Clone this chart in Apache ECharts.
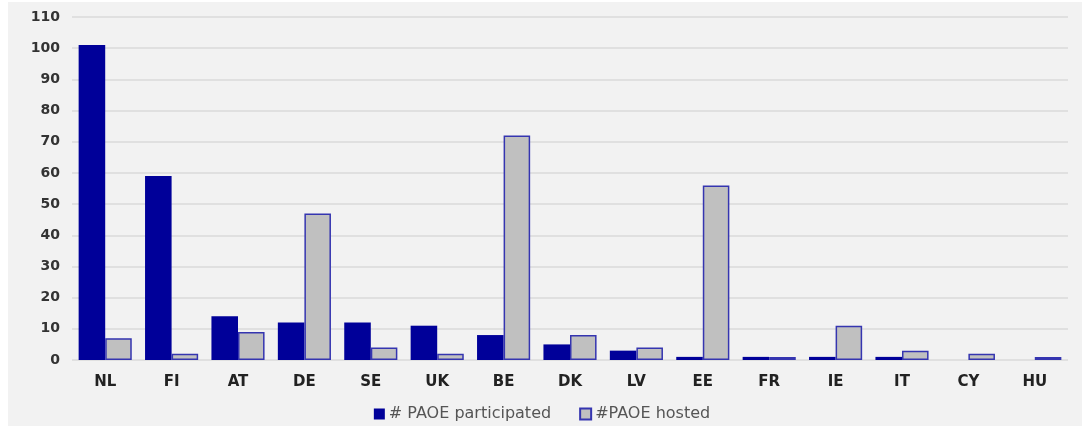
<!DOCTYPE html>
<html><head><meta charset="utf-8">
<script src="https://cdn.jsdelivr.net/npm/echarts@6/dist/echarts.min.js"></script>
<style>html,body{margin:0;padding:0;background:#fff;}#c{width:1084px;height:427px;}</style>
</head><body><div id="c"></div>
<script>
const categories = ['NL','FI','AT','DE','SE','UK','BE','DK','LV','EE','FR','IE','IT','CY','HU'];
const participated = [101,59,14,12,12,11,8,5,3,1,1,1,1,0,0];
const hosted = [7,2,9,47,4,2,72,8,4,56,1,11,3,2,1];
const yTicks = {min:0, max:110, interval:10};

const chart = echarts.init(document.getElementById('c'));
chart.setOption({
  animation:false,
  graphic:[{type:'rect', shape:{x:8,y:2,width:1074,height:424}, style:{fill:'#f2f2f2'}, z:-10, silent:true}],
  grid:{left:72, right:16, top:17, bottom:67},
  xAxis:{type:'category', data:categories,
    axisLine:{show:false}, axisTick:{show:false},
    axisLabel:{fontFamily:'DejaVu Sans', fontWeight:'bold', fontSize:15, color:'#222', margin:15}},
  yAxis:{type:'value', min:yTicks.min, max:yTicks.max, interval:yTicks.interval,
    axisLine:{show:false}, axisTick:{show:false},
    splitLine:{lineStyle:{color:'#e0e0e0', width:2}},
    axisLabel:{fontFamily:'DejaVu Sans', fontWeight:'bold', fontSize:14, color:'#333', margin:12}},
  legend:{bottom:0, left:'center', icon:'rect', itemWidth:11, itemHeight:11, itemGap:28,
    textStyle:{fontFamily:'DejaVu Sans', fontSize:16, color:'#555', padding:[0,0,0,-1]},
    data:['# PAOE participated','#PAOE hosted']},
  series:[
    {name:'# PAOE participated', type:'bar', data:participated, barWidth:'40%', barGap:'0%',
      itemStyle:{color:'#000099', borderWidth:0}},
    {name:'#PAOE hosted', type:'bar', data:hosted, barWidth:'40%',
      itemStyle:{color:'#c0c0c0', borderColor:'#3535b0', borderWidth:1.5}}
  ]
});
</script></body></html>
